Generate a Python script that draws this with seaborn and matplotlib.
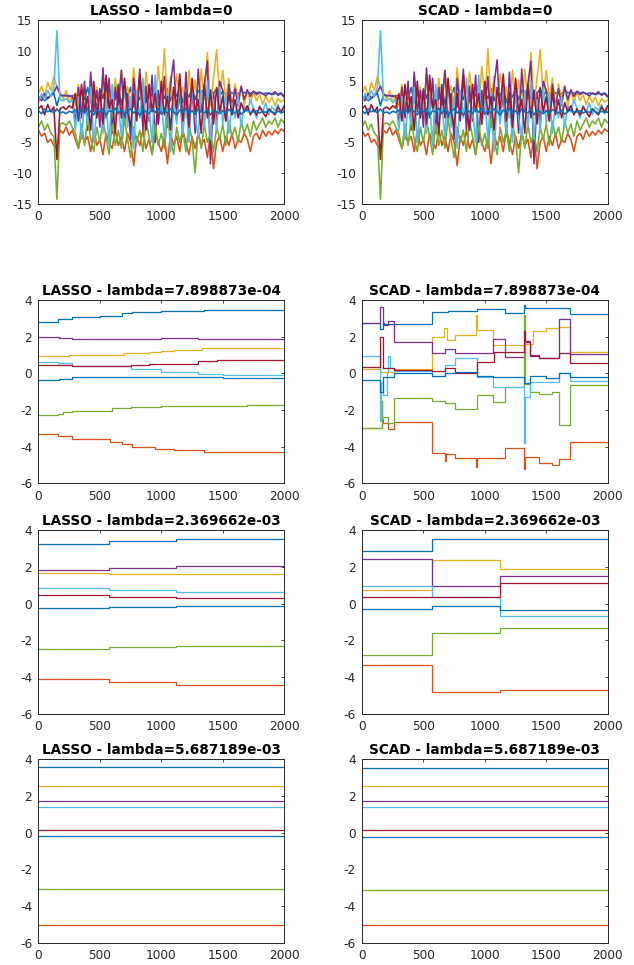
import numpy as np
import pandas as pd
import matplotlib
matplotlib.use("Agg")
import matplotlib.pyplot as plt
import seaborn as sns

# ---------------------------------------------------------------------------
# Coefficient paths over 2000 online steps, 8 coefficients
# ---------------------------------------------------------------------------
SERIES = ["beta1", "beta2", "beta3", "beta4", "beta5", "beta6", "beta7", "beta8"]
COLORS = ["#0072BD", "#D95319", "#EDB120", "#7E2F8E",
          "#77AC30", "#4DBEEE", "#A2142F", "#0072BD"]
X_MAX = 2000
LAMBDAS = [0, 7.898873e-04, 2.369662e-03, 5.687189e-03]
METHODS = ["LASSO", "SCAD"]

# lambda = 0: unpenalised estimates (identical for both penalties), sampled every 25 steps
ols_beta1 = [2.0, 2.5, 1.8, 2.2, 2.6, 3.0, 1.0, 2.8, 2.7, 2.6, 2.7, 2.5,
             2.8, 1.0, 3.5, 2.0, 4.0, 1.5, 3.0, 0.5, 3.8, 2.2, 4.2, 1.0, 3.2, 2.0, 4.5,
             1.2, 3.6, 2.4, 4.0, 0.8, 3.0, 2.0, 4.2, 1.5, 3.4, 2.6, 4.4, 1.0, 3.2, 2.2,
             3.8, 1.8, 3.5, 2.6, 4.0, 1.5, 3.3, 2.4, 3.9, 2.0, 3.5, 2.8, 4.1, 2.2, 3.6,
             3.0, 3.8, 2.6,
             3.4, 2.8, 3.6, 3.0, 3.3, 2.9, 3.5, 3.1, 3.2, 3.0,
             3.3, 3.1, 3.2, 2.9, 3.1, 3.0, 2.8, 3.0, 2.9, 3.1, 2.6]
ols_beta2 = [-3.0, -4.0, -3.5, -5.0, -4.5, -5.5, -6.0, -3.0, -3.5, -2.5, -3.8, -3.0,
             -4.5, -6.0, -3.5, -5.0, -4.0, -6.5, -3.0, -5.5, -4.5, -7.0, -3.5, -5.0,
             -6.0, -3.0, -5.5, -4.0, -6.5, -3.5, -5.0, -8.8, -4.0, -5.5, -3.0, -6.0,
             -4.5, -7.0, -3.5, -5.0, -6.5, -4.0, -8.5, -3.5, -5.5, -4.0, -6.5, -3.0,
             -5.0, -7.0, -4.0, -6.0, -3.5, -5.5, -4.5, -7.5, -3.5, -9.3, -5.0, -4.0,
             -6.5, -4.0, -5.5, -3.5, -6.0, -4.5, -5.0, -3.5, -4.5, -6.5,
             -4.0, -3.5, -4.5, -3.0, -4.0, -3.2, -3.8, -3.0, -3.6, -2.8, -3.2]
ols_beta3 = [3.0, 4.2, 2.5, 4.8, 3.5, 5.8, 4.0, 3.2, 2.0, 3.5, 1.5, 2.8,
             1.0, 4.5, 0.5, 3.8, -0.5, 5.2, 1.5, 4.0, 0.0, 6.0, 2.0, 4.8, -1.0, 5.5,
             1.0, 6.8, 2.5, 4.2, 0.5, 7.2, 1.8, 5.0, -0.5, 6.5, 2.2, 4.5, 0.8, 7.5,
             2.0, 10.3, 1.2, 5.8, 0.0, 6.2, 2.5, 4.0, -1.0, 6.8, 1.5, 5.2, 0.2, 7.0,
             2.0, 9.7, 1.0, 5.5, 10.2, 2.5,
             6.8, 1.8, 5.5, 0.8, 4.6, 2.0, 4.2, 1.0, 3.5, 1.5,
             3.2, 1.8, 2.8, 1.2, 2.6, 1.5, 2.4, 1.0, 2.2, 1.6, 2.0]
ols_beta4 = [2.5, 1.8, 3.0, 2.2, 2.8, 3.2, 4.2, 2.8, 2.6, 2.7, 2.5, 2.6,
             -2.0, 4.0, -1.0, 5.0, -3.0, 6.5, 0.0, 3.5, -2.5, 7.2, -1.0, 5.5, -3.5,
             4.0, 1.0, 6.8, -2.0, 3.0, -4.5, 5.5, 0.5, 7.0, -3.0, 4.2, -1.5, 6.0,
             -5.0, 3.5, 0.0, 5.8, -2.5, 4.5, 8.5, -1.0, 3.0, -4.0, 6.5, -2.0, 4.0,
             -3.5, 7.0, 0.0, 4.5, 8.3, -8.5, 3.0, -2.0, 5.0,
             3.5, -1.5, 4.5, 0.5, 3.8, 1.0, 4.2, 2.0, 3.6, 2.5,
             3.4, 2.8, 3.2, 3.0, 2.6, 3.1, 2.9, 3.3, 2.7, 3.0, 2.4]
ols_beta5 = [-2.5, -1.5, -3.0, -2.0, -3.5, -4.0, -14.3, -2.0, -1.8, -2.2, -1.5, -2.5,
             -3.5, -6.0, -2.0, -5.5, -1.0, -4.5, -6.5, -2.5, -5.0, -1.5, -4.0, -7.0,
             -2.0, -5.5, -3.0, -6.0, -1.0, -4.5, -7.5, -2.5, -5.0, -3.0, -6.5, -1.5,
             -4.0, -7.0, -2.0, -5.5, -3.5, -6.0, -1.0, -4.5, -7.0, -2.5, -5.0, -3.0,
             -6.5, -2.0, -4.5, -10.0, -3.0, -6.0, -2.0, -5.0, -3.5, -6.5, -2.5, -4.5,
             -2.0, -5.5, -1.5, -4.0, -2.5, -5.0, -1.5, -3.5, -2.0, -4.0,
             -1.5, -3.0, -2.0, -1.0, -2.5, -1.5, -2.0, -1.0, -2.5, -1.2, -1.8]
ols_beta6 = [1.5, 3.0, 2.0, 3.5, 2.5, 4.0, 13.3, 2.0, 1.8, 2.2, 1.5, 2.0,
             -3.0, 2.5, -4.5, 1.5, -2.0, 4.0, -5.0, 0.5, 3.0, -3.5, 2.0, -5.5, 4.5,
             -1.5, 1.0, -4.0, 5.0, -2.5, 2.5, -6.0, 3.5, -1.0, 5.5, -3.0, 0.5, -5.0,
             6.0, -2.0, 2.0, -4.5, 3.0, -6.5, 1.5, -2.0, 5.0, -3.5, 2.5, -5.0, 4.0,
             -1.0, -4.0, 3.5, -2.5, 5.0, -4.5, 2.0, -3.0, 4.0,
             -2.0, 3.0, -3.5, 1.5, -1.0, 2.5, -2.5, 1.0, 0.0, 2.0,
             0.5, -1.0, 1.0, 0.0, 1.5, -0.5, 0.8, 0.2, 1.2, -0.3, 0.5]
ols_beta7 = [0.5, 1.0, -0.5, 1.2, 0.0, 0.8, -7.8, 0.5, 0.8, 0.4, 1.0, 0.6,
             3.0, -1.5, 4.5, 0.0, 2.5, -3.0, 5.0, -1.0, 3.5, -2.0, 6.0, 0.5, 2.0,
             -3.5, 4.0, -1.0, 5.5, 0.0, -2.5, 3.0, -1.5, 6.0, 1.0, -3.0, 4.5, 0.0,
             3.0, -2.0, 5.0, -0.5, 2.5, -3.0, 4.0, 0.5, 6.2, -1.5, 3.0, -2.5, 5.5,
             0.0, 2.0, -3.5, 4.5, -1.0, 3.5, -2.0, 4.0, 0.0,
             2.5, -1.5, 3.0, -0.5, 2.0, -1.0, 1.5, 0.0, 1.0, -0.5,
             0.5, -0.5, 0.8, 0.0, -0.8, 0.5, 0.0, -0.5, 0.8, 0.0, 1.0]
ols_beta8 = [0.2, -0.3, 0.5, 0.0, 0.3, -0.2, 0.5, -0.2, 0.0, -0.3, 0.1, -0.1,
             0.3, -0.4, 0.5, -0.2, 0.6, 0.0, -0.5, 0.4, -0.1, 0.5, -0.6, 0.2, 0.0,
             0.6, -0.3, 0.4, -0.5, 0.1, 0.5, -0.2, 0.3, -0.6, 0.4, 0.0, -0.3, 0.5,
             -0.1, 0.6, -0.4, 0.2, -0.2, 0.5, 0.0, -0.5, 0.3, -0.1, 0.6, -0.3, 0.2,
             -0.4, 0.5, 0.0, -0.2, 0.4, -0.5, 0.3, 0.0, -0.3,
             0.2, -0.3, 0.4, 0.0, -0.2, 0.3, -0.4, 0.1, 0.3, -0.1,
             0.0, 0.2, -0.2, 0.1, -0.1, 0.3, 0.0, -0.2, 0.1, -0.1, 0.0]
ols_paths = [ols_beta1, ols_beta2, ols_beta3, ols_beta4,
             ols_beta5, ols_beta6, ols_beta7, ols_beta8]

# Piecewise-constant paths: (step where a new value starts, value from that step on)
lasso_lam1 = [
    ([0, 160, 270, 500, 677, 760, 1000, 1350], [2.82, 2.95, 3.09, 3.15, 3.27, 3.35, 3.40, 3.45]),
    ([0, 160, 270, 580, 680, 760, 950, 1100, 1350, 1700],
     [-3.29, -3.40, -3.60, -3.73, -3.85, -4.00, -4.13, -4.20, -4.30, -4.27]),
    ([0, 250, 550, 700, 900, 1000, 1100, 1330], [0.95, 0.98, 1.02, 1.10, 1.18, 1.25, 1.28, 1.37]),
    ([0, 170, 270, 1000, 1300, 1700], [1.97, 1.93, 1.90, 1.93, 1.90, 1.86]),
    ([0, 160, 200, 270, 600, 750, 1000, 1700], [-2.29, -2.20, -2.12, -2.04, -1.90, -1.84, -1.78, -1.73]),
    ([0, 160, 270, 750, 1000, 1300, 1500], [0.64, 0.55, 0.40, 0.24, 0.10, -0.03, -0.09]),
    ([0, 270, 650, 750, 900, 1300, 1450], [0.47, 0.38, 0.40, 0.47, 0.52, 0.66, 0.71]),
    ([0, 170, 270, 1000, 1500], [-0.33, -0.28, -0.18, -0.22, -0.27]),
]
scad_lam1 = [
    ([0, 150, 168, 180, 567, 700, 934, 1164, 1319, 1330, 1693],
     [2.76, 2.40, 2.75, 2.72, 3.36, 3.43, 3.49, 3.31, 3.75, 3.55, 3.22]),
    ([0, 160, 170, 214, 260, 567, 672, 680, 755, 930, 940, 1069, 1164, 1319, 1328, 1440, 1545, 1600, 1697],
     [-3.00, -2.50, -2.70, -3.05, -2.64, -4.36, -4.80, -4.40, -4.60, -5.10, -4.60, -4.62, -4.08,
      -5.20, -4.55, -4.90, -5.00, -4.65, -3.72]),
    ([0, 150, 260, 567, 665, 690, 760, 930, 940, 1069, 1319, 1390, 1500, 1600, 1697],
     [0.27, 0.10, 0.27, 2.00, 2.50, 1.85, 2.10, 3.20, 2.35, 1.55, 1.60, 2.30, 2.50, 2.55, 1.15]),
    ([0, 150, 168, 214, 260, 567, 676, 755, 934, 1069, 1164, 1325, 1371, 1440, 1600, 1697],
     [2.76, 3.60, 2.64, 2.85, 1.73, 1.12, 1.35, 1.12, 1.12, 1.86, 0.90, 1.70, 1.00, 0.85, 2.98, 1.08]),
    ([0, 160, 165, 214, 260, 567, 676, 755, 934, 1069, 1164, 1319, 1325, 1371, 1440, 1545, 1607, 1697],
     [-2.96, -1.50, -2.36, -2.70, -1.33, -1.49, -1.60, -1.96, -1.18, -1.55, -0.73, 3.20, -0.55,
      -1.00, -1.10, -1.00, -2.82, -0.64]),
    ([0, 150, 158, 170, 200, 215, 230, 260, 567, 676, 755, 934, 1069, 1319, 1325, 1371, 1607, 1697],
     [0.95, -2.60, -0.50, -1.20, 0.10, 0.95, 0.30, 0.12, -0.15, 0.45, 0.82, -0.20, -0.76, -3.80,
      -1.27, -0.45, 0.00, -0.42]),
    ([0, 150, 168, 260, 567, 676, 755, 934, 1072, 1319, 1328, 1371, 1440, 1600, 1697],
     [0.36, 2.00, 0.30, 0.18, 0.16, 0.30, 0.05, 0.63, 1.17, 2.30, 1.75, 0.95, 0.85, 1.10, 0.55]),
    ([0, 150, 168, 260, 567, 676, 755, 934, 1069, 1319, 1371, 1500, 1607, 1697],
     [-0.33, -1.00, -0.20, 0.05, -0.15, 0.00, 0.10, -0.15, -0.20, -0.50, -0.15, -0.25, 0.00, -0.22]),
]

lasso_lam2_steps = [0, 575, 1120]
lasso_lam2 = [[3.23, 3.41, 3.50], [-4.11, -4.29, -4.44], [1.69, 1.61, 1.61], [1.85, 1.96, 2.05],
              [-2.50, -2.39, -2.33], [0.83, 0.72, 0.64], [0.44, 0.33, 0.31], [-0.26, -0.17, -0.13]]
scad_lam2_steps = [0, 567, 1123]
scad_lam2 = [[2.87, 3.51, 3.51], [-3.35, -4.82, -4.69], [0.75, 2.36, 1.87], [2.44, 0.98, 1.49],
             [-2.80, -1.60, -1.31], [0.93, 0.36, -0.66], [0.33, 0.33, 1.10], [-0.30, -0.15, -0.38]]

lasso_lam3 = [3.58, -5.03, 2.54, 1.73, -3.09, 1.40, 0.12, -0.20]
scad_lam3 = [3.54, -5.03, 2.54, 1.70, -3.12, 1.39, 0.12, -0.24]


def sampled_frame(paths):
    rows = []
    for name, vals in zip(SERIES, paths):
        xs = np.linspace(0, X_MAX, len(vals))
        rows += [(name, x, y) for x, y in zip(xs, vals)]
    return pd.DataFrame(rows, columns=["series", "step", "coef"])


def step_frame(paths):
    rows = []
    for name, (bx, by) in zip(SERIES, paths):
        xs = list(bx) + [X_MAX]
        ys = list(by) + [by[-1]]
        rows += [(name, x, y) for x, y in zip(xs, ys)]
    return pd.DataFrame(rows, columns=["series", "step", "coef"])


panels = [
    [(sampled_frame(ols_paths), "default"), (sampled_frame(ols_paths), "default")],
    [(step_frame(lasso_lam1), "steps-post"), (step_frame(scad_lam1), "steps-post")],
    [(step_frame([(lasso_lam2_steps, v) for v in lasso_lam2]), "steps-post"),
     (step_frame([(scad_lam2_steps, v) for v in scad_lam2]), "steps-post")],
    [(step_frame([([0], [v]) for v in lasso_lam3]), "steps-post"),
     (step_frame([([0], [v]) for v in scad_lam3]), "steps-post")],
]

sns.set_theme(style="white")
plt.rcParams["font.family"] = ["DejaVu Sans"]
plt.rcParams["axes.unicode_minus"] = False

INK = "#262626"
fig = plt.figure(figsize=(6.34, 9.65), dpi=100)
fig.patch.set_facecolor("white")

lefts = [0.0607, 0.5710]
bottoms = [0.7891, 0.4990, 0.2606, 0.0233]
width, height = 0.3875, 0.1900
palette = dict(zip(SERIES, COLORS))

for r, lam in enumerate(LAMBDAS):
    lam_txt = "0" if lam == 0 else f"{lam:e}"
    for c, method in enumerate(METHODS):
        ax = fig.add_axes([lefts[c], bottoms[r], width, height])
        df, style = panels[r][c]
        sns.lineplot(data=df, x="step", y="coef", hue="series", hue_order=SERIES,
                     palette=palette, estimator=None, sort=False, legend=False,
                     drawstyle=style, linewidth=1.15 if r == 0 else 0.9, ax=ax)
        ax.set_xlim(0, X_MAX)
        ax.set_xticks([0, 500, 1000, 1500, 2000])
        if r == 0:
            ax.set_ylim(-15, 15)
            ax.set_yticks(np.arange(-15, 16, 5))
        else:
            ax.set_ylim(-6, 4)
            ax.set_yticks(np.arange(-6, 5, 2))
        ax.set_xlabel("")
        ax.set_ylabel("")
        ax.set_title(f"{method} - lambda={lam_txt}", fontsize=9.8,
                     fontweight="bold", color="black", pad=4)
        for sp in ax.spines.values():
            sp.set_color(INK)
            sp.set_linewidth(0.7)
        ax.tick_params(direction="in", top=True, right=True, length=2.5, width=0.6,
                       color=INK, labelcolor=INK, labelsize=8.7, pad=4.5)

fig.savefig("out.png", dpi=100, facecolor="white")
